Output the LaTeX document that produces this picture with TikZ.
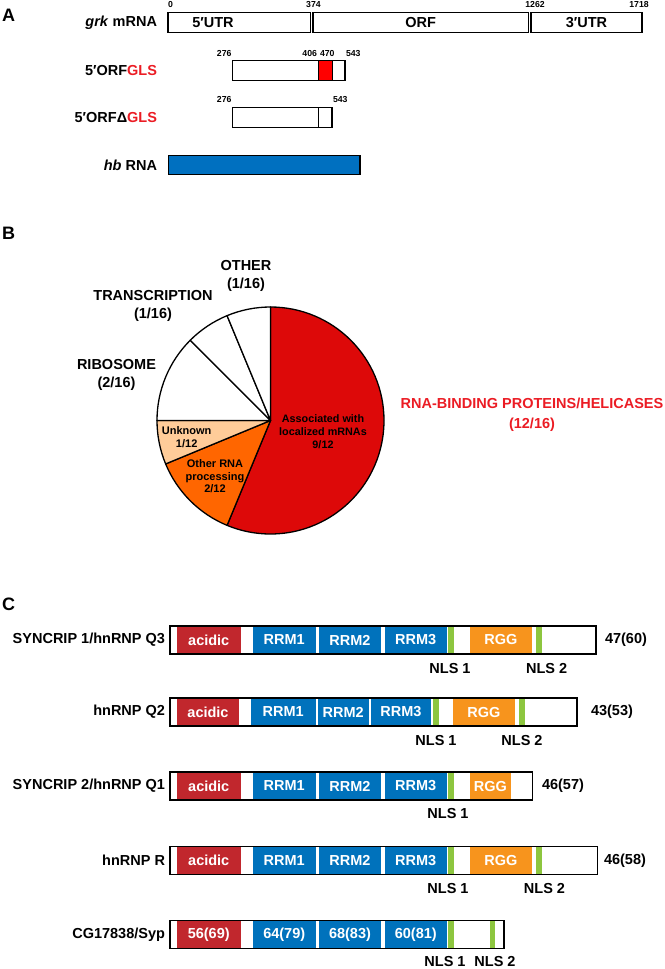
\documentclass[tikz,border=0pt]{standalone}
\usepackage{fontspec}
\setmainfont{Liberation Sans}
\usetikzlibrary{positioning}
\definecolor{glsred}{RGB}{235,28,36}
\definecolor{boxred}{RGB}{255,0,0}
\definecolor{hbblue}{RGB}{0,112,192}
\definecolor{pied}{RGB}{221,9,9}
\definecolor{pieo}{RGB}{255,102,0}
\definecolor{piet}{RGB}{255,204,153}
\definecolor{acid}{RGB}{193,39,45}
\definecolor{rrm}{RGB}{0,114,188}
\definecolor{rgg}{RGB}{247,148,29}
\definecolor{nls}{RGB}{141,198,63}

\begin{document}
\begin{tikzpicture}[x=1pt,y=1pt,
  every node/.style={font=\bfseries\fontsize{14.5}{17}\selectfont, inner sep=0pt, outer sep=0pt},
  letter/.style={font=\bfseries\fontsize{18}{20}\selectfont, anchor=west},
  num/.style={font=\bfseries\fontsize{8.7}{10}\selectfont},
  small/.style={font=\bfseries\fontsize{11}{12.5}\selectfont, align=center},
  two/.style={align=center, font=\bfseries\fontsize{14.5}{18}\selectfont},
  seg/.style={draw, line width=1.3pt, fill=white, minimum height=19.5pt, anchor=west},
  pbox/.style={draw, line width=1.3pt, fill=white, minimum height=28pt, anchor=west},
  dom/.style={minimum height=26.7pt, anchor=west, text=white}]
\useasboundingbox (0,0) rectangle (664,-969);

\node[letter] (lA) at (2,-15) {A};
\foreach \a/\b [count=\i] in {168/310.5,313/528.5,531/642}
  \node[seg, minimum width={(\b-\a)*1pt}] (g\i) at (\a,-22.5) {};
\node (t1) at (213,-22.5) {5′UTR};
\node (t2) at (g2) {ORF};
\node (t3) at (g3) {3′UTR};
\foreach \x/\t/\an in {168/0/west,313.5/374/center,535/1262/center,639/1718/center}
  \node[num, anchor=\an] (n\t) at (\x,-5) {\t};
\node[anchor=east] (grk) at (157,-22.5) {\textit{grk} mRNA};

\node[seg, minimum width=112.7pt] (gls) at (232.3,-70.5) {};
\node[seg, fill=boxred, minimum width=14pt] (glsr) at (318.7,-70.5) {};
\node[num, anchor=east] (g276) at (231.5,-53.3) {276};
\node[num, anchor=east] (g406) at (317,-53.3) {406};
\node[num, anchor=west] (g470) at (320,-53.3) {470};
\node[num, anchor=west] (g543) at (346,-53.3) {543};
\node[anchor=east] (glsl) at (157,-70.5) {5′ORF\textcolor{glsred}{GLS}};

\node[seg, minimum width=99.4pt] (dgls) at (232.6,-117.5) {};
\node[fill=black, minimum width=1.5pt, minimum height=19.5pt] (dcut) at (318.6,-117.5) {};
\node[num, anchor=east] (d276) at (231.5,-100) {276};
\node[num, anchor=west] (d543) at (333,-100) {543};
\node[anchor=east] (dglsl) at (157,-117.5) {5′ORFΔ\textcolor{glsred}{GLS}};

\node[seg, fill=hbblue, minimum width=191.4pt] (hb) at (168.6,-165) {};
\node[anchor=east] (hbl) at (157,-165) {\textit{hb} RNA};

\node[letter] (lB) at (2,-233.5) {B};
\coordinate (P) at (270.5,-420.5);
\def\rad{113.5}
\foreach \a/\b/\c in {90/-112.5/pied,-112.5/-157.5/pieo,-157.5/-180/piet,180/135/white,135/112.5/white,112.5/90/white}
  \filldraw[fill=\c, line width=1.3pt, line join=round] (P) -- ++(\a:\rad pt) arc[start angle=\a, end angle=\b, radius=\rad pt] -- cycle;
\node[two] (oth) at (246,-275.5) {OTHER\\(1/16)};
\node[two] (trs) at (153,-306) {TRANSCRIPTION\\(1/16)};
\node[two] (rib) at (116.5,-374.5) {RIBOSOME\\(2/16)};
\node[two, text=glsred, font=\bfseries\fontsize{14.5}{20}\selectfont] (rbp) at (532,-414.5) {RNA-BINDING PROTEINS/HELICASES\\(12/16)};
\node[small, font=\bfseries\fontsize{10.8}{13}\selectfont] (loc) at (323,-431.5) {Associated with\\localized mRNAs\\9/12};
\node[small] (unk) at (186.7,-437) {Unknown\\1/12};
\node[small] (orp) at (215,-476.5) {Other RNA\\processing\\2/12};

\node[letter] (lC) at (2,-604) {C};
\foreach \r/\nm/\y/\w in {1/{SYNCRIP 1/hnRNP Q3}/640/426,2/{hnRNP Q2}/712/407,3/{SYNCRIP 2/hnRNP Q1}/786/362.6,4/{hnRNP R}/860.5/427.5,5/{CG17838/Syp}/934.5/334}{
  \node[pbox, minimum width=\w pt] (b\r) at (170,-\y) {};
  \node[anchor=east] (nm\r) at (165,-\y) {\nm};
}
\foreach \r/\y in {1/640,4/860.5}
  \foreach \a/\b/\c/\t [count=\i] in {177/240.5/acid/acidic,253/315.5/rrm/RRM1,319/381/rrm/RRM2,384.5/447/rrm/RRM3,448/453.5/nls/,470/532/rgg/RGG,536/541.5/nls/}
    \node[dom, fill=\c, minimum width={(\b-\a)*1pt}] (d\r\i) at (\a,-\y) {\t};
\foreach \a/\b/\c/\t [count=\i] in {177/239/acid/acidic,251/315.5/rrm/RRM1,318/368.5/rrm/RRM2,371/431/rrm/RRM3,433/438.5/nls/,453/515/rgg/RGG,519/524.5/nls/}
  \node[dom, fill=\c, minimum width={(\b-\a)*1pt}] (d2\i) at (\a,-712) {\t};
\foreach \a/\b/\c/\t [count=\i] in {177/240.5/acid/acidic,253/315.5/rrm/RRM1,319/381/rrm/RRM2,384.5/447/rrm/RRM3,448/453.5/nls/,470/511/rgg/RGG}
  \node[dom, fill=\c, minimum width={(\b-\a)*1pt}] (d3\i) at (\a,-786) {\t};
\foreach \a/\b/\c/\t [count=\i] in {177/240.5/acid/56(69),253/315.5/rrm/64(79),319/381/rrm/68(83),384.5/447/rrm/60(81),448/453.5/nls/,489.5/495/nls/}
  \node[dom, fill=\c, minimum width={(\b-\a)*1pt}] (d5\i) at (\a,-934.5) {\t};
\foreach \r/\x/\y/\t in {1/605/640/47(60),2/591/712/43(53),3/542/786/46(57),4/604/860.5/46(58)}
  \node[anchor=west] (c\r) at (\x,-\y) {\t};
\foreach \n/\x/\y/\t in {a/450/669/NLS 1,b/546.6/669/NLS 2,c/436/740.7/NLS 1,d/522/740.7/NLS 2,e/448/813.3/NLS 1,f/448/888.3/NLS 1,g/544.5/888.3/NLS 2,h/445/961.7/NLS 1,i/495/961.7/NLS 2}
  \node (nls\n) at (\x,-\y) {\t};
\end{tikzpicture}
\end{document}
